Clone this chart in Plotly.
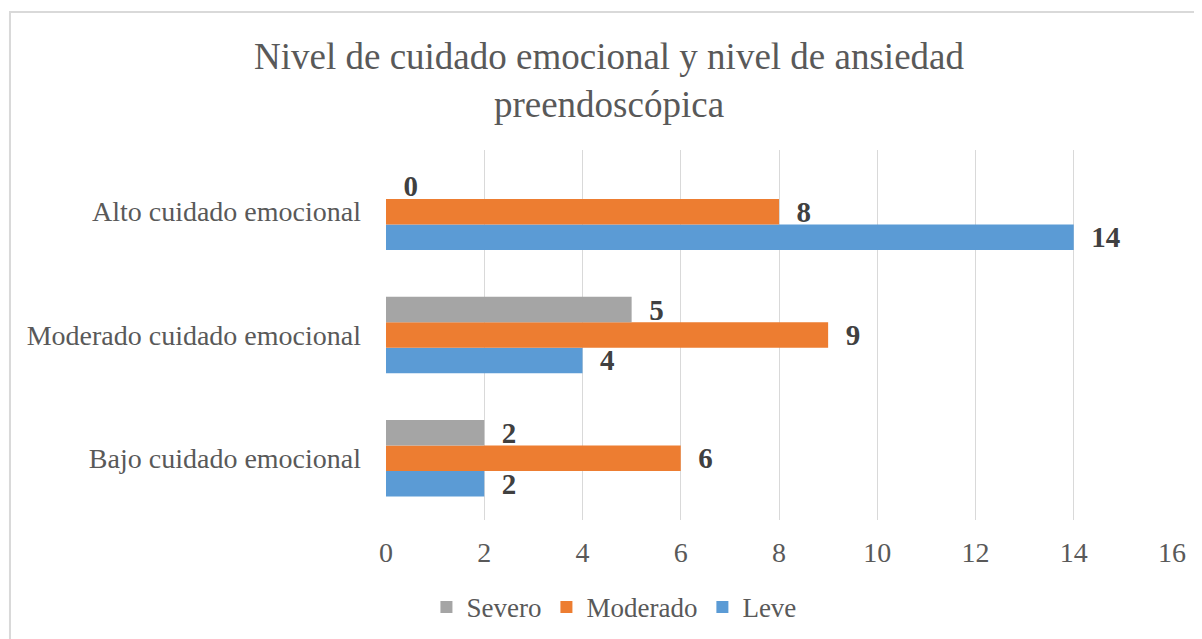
import plotly.graph_objects as go

categories = ["Bajo cuidado emocional", "Moderado cuidado emocional", "Alto cuidado emocional"]
leve = [2, 4, 14]
moderado = [6, 9, 8]
severo = [2, 5, 0]
tick_vals = [0, 2, 4, 6, 8, 10, 12, 14, 16]

font_family = "Liberation Serif, Times New Roman, serif"
label_font = dict(family=font_family, size=29, color="#404040")

fig = go.Figure()
for name, vals, color in [("Leve", leve, "#5B9BD5"), ("Moderado", moderado, "#ED7D31"), ("Severo", severo, "#A5A5A5")]:
    fig.add_trace(go.Bar(
        y=categories, x=vals, name=name, orientation="h",
        marker=dict(color=color, line=dict(width=0)),
        text=[f"\u00a0\u00a0<b>{v}</b>" for v in vals], textposition="outside",
        textfont=label_font, cliponaxis=False, constraintext="none",
    ))

fig.update_layout(
    width=1202, height=639,
    paper_bgcolor="white", plot_bgcolor="white",
    margin=dict(l=378, r=38, t=142, b=127, autoexpand=False),
    barmode="group", bargap=0.38, bargroupgap=0,
    uniformtext=dict(mode=False),
    title=dict(text="Nivel de cuidado emocional y nivel de ansiedad<br>preendoscópica",
               x=0.5, xanchor="center", y=0.904, yanchor="top",
               font=dict(family=font_family, size=37, color="#595959")),
    font=dict(family=font_family, size=28, color="#595959"),
    xaxis=dict(range=[0, 16], tickvals=tick_vals, showgrid=True, gridcolor="#D9D9D9", gridwidth=1.3,
               zeroline=False, showline=False, ticks="", ticklabelstandoff=13, automargin=False,
               tickangle=0,
               tickfont=dict(family=font_family, size=28, color="#595959")),
    yaxis=dict(showgrid=False, zeroline=False, showline=False, ticks="", ticklabelstandoff=24,
               automargin=False,
               tickfont=dict(family=font_family, size=28, color="#595959")),
    legend=dict(orientation="h", x=0.29, xanchor="center", y=-0.17, yanchor="top",
                traceorder="reversed", font=dict(family=font_family, size=27, color="#595959"),
                itemwidth=30),
    showlegend=True,
    shapes=[dict(type="rect", xref="paper", yref="paper", x0=-0.4784, x1=1.0305, y0=-0.34, y1=1.373,
                 line=dict(color="#D9D9D9", width=2), layer="below")],
)

fig.write_html("out.html")
